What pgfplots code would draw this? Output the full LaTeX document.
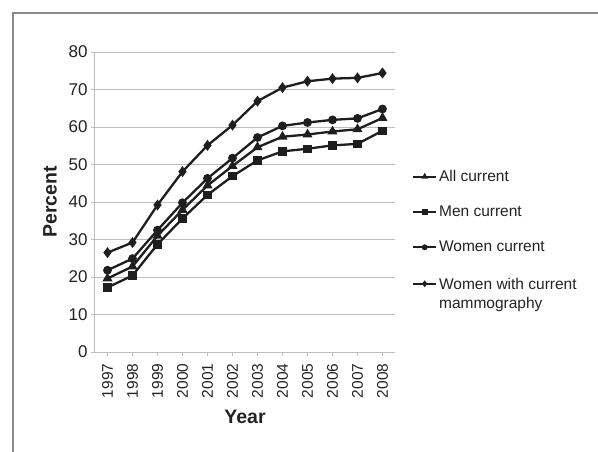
\documentclass[border=0pt]{standalone}
\usepackage{fontspec}
\setmainfont{Liberation Sans}
\usepackage{pgfplots}
\usepackage{pgfplotstable}
\pgfplotsset{compat=1.18}
\definecolor{ln}{HTML}{1E1E1E}
\definecolor{frm}{HTML}{8A8A8A}
\definecolor{grd}{HTML}{BDBDBD}
\definecolor{txt}{HTML}{222222}
\newcommand{\legfont}{\fontsize{15.5}{19}\selectfont}

% year index: 0 = 1997 ... 11 = 2008
\pgfplotstableread{
x all men women mammo
0  19.6 17.2 21.8 26.5
1  22.8 20.4 24.9 29.2
2  31.0 28.7 32.5 39.2
3  37.9 35.6 39.8 48.1
4  44.4 41.9 46.3 55.1
5  49.6 46.9 51.7 60.5
6  54.6 51.1 57.2 66.9
7  57.4 53.5 60.3 70.5
8  58.0 54.2 61.2 72.2
9  58.8 55.1 61.9 72.9
10 59.4 55.5 62.3 73.1
11 62.4 59.0 64.8 74.4
}\screening

\begin{document}
\begin{tikzpicture}[x=1pt,y=1pt]
\useasboundingbox (0,0) rectangle (598,451);
\draw[frm, line width=2.2pt] (13,-5) -- (13,438) -- (603,438);
\begin{axis}[
  at={(95pt,99pt)}, anchor=south west,
  scale only axis, width=300pt, height=300pt,
  xmin=-0.5, xmax=11.5, ymin=0, ymax=80,
  xtick={0,...,11},
  xticklabels={1997,1998,1999,2000,2001,2002,2003,2004,2005,2006,2007,2008},
  ytick={0,10,...,80},
  ymajorgrids, grid style={grd, line width=0.8pt},
  axis x line*=bottom, axis y line*=left,
  axis line style={grd, line width=1pt, -},
  tick style={grd, line width=0.8pt},
  tick align=outside, major tick length=4pt,
  /pgf/number format/assume math mode=true,
  x tick label style={rotate=90, anchor=east, txt, font=\fontsize{15.5}{17}\selectfont},
  xticklabel shift=4pt,
  y tick label style={txt, font=\fontsize{17}{19}\selectfont},
  xlabel={Year}, ylabel={Percent},
  label style={txt, font=\bfseries\fontsize{19.5}{22}\selectfont},
  xlabel style={at={(axis description cs:0.5,-0.217)}, anchor=center},
  ylabel style={at={(axis description cs:-0.15,0.5)}, anchor=center},
  every axis plot/.append style={ln, line width=2.3pt, mark options={solid}},
  legend image code/.code={\draw[mark repeat=2, mark phase=2, #1, line width=1.8pt, mark size=2pt]
    plot coordinates {(0pt,0pt) (11.5pt,0pt) (23pt,0pt)};},
  legend style={at={(axis description cs:1.057,0.613)}, anchor=north west,
    draw=none, fill=none, inner sep=0pt, text=txt, row sep=19pt,
    cells={anchor=west}},
]
\addplot[mark=triangle*, mark size=3.6pt] table[x=x, y=all] {\screening};
\addlegendentry{\legfont All current}
\addplot[mark=square*, mark size=3pt] table[x=x, y=men] {\screening};
\addlegendentry{\legfont Men current}
\addplot[mark=*, mark size=3.2pt] table[x=x, y=women] {\screening};
\addlegendentry{\legfont Women current}
\addplot[mark=diamond*, mark size=3.6pt] table[x=x, y=mammo] {\screening};
\addlegendentry{\legfont\begin{tabular}[t]{@{}l@{}}Women with current\\mammography\end{tabular}}
\end{axis}
\end{tikzpicture}
\end{document}
